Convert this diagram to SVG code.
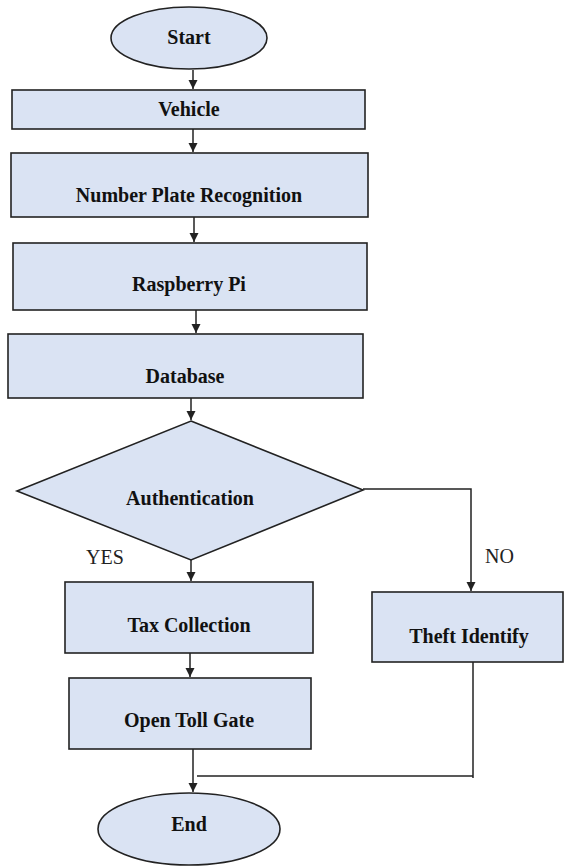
<svg xmlns="http://www.w3.org/2000/svg" width="565" height="867" viewBox="0 0 565 867">
<style>
.n{fill:#dae3f3;stroke:#222;stroke-width:1.6}
.c{fill:none;stroke:#222;stroke-width:1.5}
</style>
<defs>
<marker id="ah" markerUnits="userSpaceOnUse" markerWidth="10" markerHeight="11" refX="9" refY="4.5" orient="auto">
<path d="M0,0 L9,4.5 L0,9 Z" fill="#222"/>
</marker>
</defs>
<rect width="565" height="867" fill="#fff"/>
<g id="connectors">
<line class="c" x1="193" y1="70" x2="193" y2="89" marker-end="url(#ah)"/>
<line class="c" x1="193" y1="129" x2="193" y2="152" marker-end="url(#ah)"/>
<line class="c" x1="194" y1="217" x2="194" y2="242" marker-end="url(#ah)"/>
<line class="c" x1="196" y1="310" x2="196" y2="333" marker-end="url(#ah)"/>
<line class="c" x1="191" y1="398" x2="191" y2="420" marker-end="url(#ah)"/>
<line class="c" x1="191" y1="560" x2="191" y2="581" marker-end="url(#ah)"/>
<line class="c" x1="190" y1="653" x2="190" y2="677" marker-end="url(#ah)"/>
<line class="c" x1="193" y1="749" x2="193" y2="792" marker-end="url(#ah)"/>
<polyline class="c" points="363,489 471,489 471,591" marker-end="url(#ah)"/>
<polyline class="c" points="473,662 473,778"/>
<line class="c" x1="473" y1="776" x2="197" y2="776"/>
<g font-family="Liberation Serif, serif" font-size="20" fill="#222">
<text x="86" y="564">YES</text>
<text x="485" y="563">NO</text>
</g>
</g>
<g font-family="Liberation Serif, serif" font-weight="bold" font-size="20" fill="#111" text-anchor="middle">
<g id="start"><ellipse class="n" cx="189" cy="38" rx="78" ry="31"/><text x="189" y="44">Start</text></g>
<g id="vehicle"><rect class="n" x="12" y="90" width="353" height="39"/><text x="189" y="116">Vehicle</text></g>
<g id="npr"><rect class="n" x="11" y="153" width="357" height="64"/><text x="189" y="202">Number Plate Recognition</text></g>
<g id="raspberry"><rect class="n" x="13" y="243" width="354" height="67"/><text x="189" y="291">Raspberry Pi</text></g>
<g id="database"><rect class="n" x="8" y="334" width="355" height="64"/><text x="185" y="383">Database</text></g>
<g id="authentication"><polygon class="n" points="191,421 363,490 191,560 17,491"/><text x="190" y="505">Authentication</text></g>
<g id="tax"><rect class="n" x="65" y="582" width="248" height="71"/><text x="189" y="632">Tax Collection</text></g>
<g id="theft"><rect class="n" x="372" y="592" width="191" height="70"/><text x="469" y="643">Theft Identify</text></g>
<g id="toll"><rect class="n" x="69" y="678" width="242" height="71"/><text x="189" y="727">Open Toll Gate</text></g>
<g id="end"><ellipse class="n" cx="189" cy="829" rx="91" ry="36"/><text x="189" y="831">End</text></g>
</g>
</svg>
